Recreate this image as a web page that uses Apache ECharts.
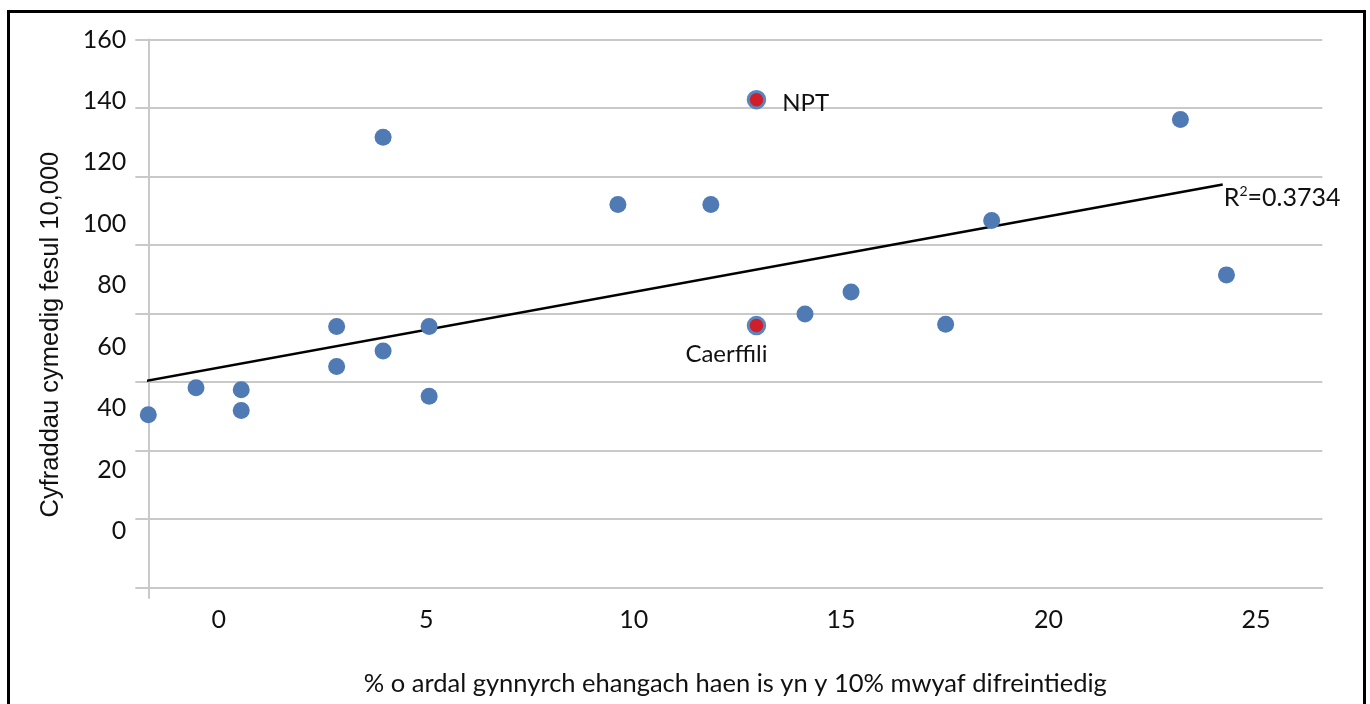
<!DOCTYPE html>
<html lang="cy">
<head>
    <meta charset="UTF-8">
    <script src="https://cdn.jsdelivr.net/npm/echarts@6/dist/echarts.min.js"></script>
    <title>Cyfraddau cymedig</title>
</head>
<body>
<style>
    html, body {
        margin: 0;
        background: #fff;
    }
    #main {
        width: 1370px;
        height: 704px;
    }
</style>
<div id='main'></div>
<script>
    // awdurdodau lleol (pwyntiau glas)
    var xVals = [-1.70, -0.55, 0.54, 0.54, 2.84, 2.84, 3.96, 3.96, 5.07, 5.07,
        9.62, 11.86, 14.13, 15.24, 17.52, 18.63, 23.18, 24.29];
    var yVals = [37.9, 46.7, 46.0, 39.3, 66.6, 53.6, 128.2, 58.6, 66.6, 43.9,
        106.3, 106.3, 70.7, 77.8, 67.3, 101.1, 134.0, 83.4];

    // pwyntiau wedi'u hamlygu
    var hiNames = ['NPT', 'Caerffili'];
    var hiX = [12.96, 12.96];
    var hiY = [140.4, 66.9];

    // llinell duedd
    var trendX = [-2.0, 24.2];
    var trendY = [48.3, 112.8];
    var r2Text = '0.3734';

    var xTicks = [0, 5, 10, 15, 20, 25];
    var yTicks = [0, 20, 40, 60, 80, 100, 120, 140, 160];

    var xMin = -1.70, xMax = 26.6;
    var yMin = -18.4, yMax = 160;

    var points = [];
    for (var i = 0; i < xVals.length; i++) {
        points.push([xVals[i], yVals[i]]);
    }
    var hiPoints = [];
    for (var j = 0; j < hiNames.length; j++) {
        var lab = j === 0
            ? {show: true, position: 'right', distance: 16, offset: [0, 4]}
            : {show: true, position: 'bottom', distance: 7, offset: [-30, 0]};
        hiPoints.push({name: hiNames[j], value: [hiX[j], hiY[j]], label: lab});
    }
    var trendData = [];
    for (var k = 0; k < trendX.length; k++) {
        trendData.push([trendX[k], trendY[k]]);
    }

    var gridColor = '#c9c9c9';
    var font = 'Lato';

    var myChart = echarts.init(document.getElementById('main'));
    var option = {
        animation: false,
        backgroundColor: '#fff',
        graphic: [{
            type: 'rect',
            shape: {x: 8.5, y: 11.5, width: 1356, height: 760},
            style: {fill: 'none', stroke: '#000', lineWidth: 3},
            silent: true
        }],
        grid: {left: 148.3, right: 47.7, top: 39.5, bottom: 116.3, containLabel: false},
        xAxis: {
            type: 'value',
            min: xMin,
            max: xMax,
            name: '% o ardal gynnyrch ehangach haen is yn y 10% mwyaf difreintiedig',
            nameLocation: 'middle',
            nameGap: 83,
            nameTextStyle: {color: '#111', fontSize: 25.5, fontFamily: font},
            axisLine: {show: true, onZero: false, lineStyle: {color: gridColor, width: 2}},
            axisTick: {show: true, customValues: [xMin], length: 11, lineStyle: {color: gridColor, width: 2}},
            splitLine: {show: false},
            axisLabel: {
                customValues: xTicks,
                margin: 20,
                color: '#111',
                fontSize: 25,
                fontFamily: font
            }
        },
        yAxis: [
            {
                // linellau grid
                type: 'value',
                min: 0,
                max: 160,
                interval: 20,
                position: 'left',
                axisLine: {show: true, onZero: false, lineStyle: {color: gridColor, width: 2}},
                axisTick: {show: true, length: 13, lineStyle: {color: gridColor, width: 2}},
                axisLabel: {show: false},
                splitLine: {show: true, lineStyle: {color: gridColor, width: 2}}
            },
            {
                // labeli a data
                type: 'value',
                min: yMin,
                max: yMax,
                position: 'left',
                name: 'Cyfraddau cymedig fesul 10,000',
                nameLocation: 'middle',
                nameGap: 84,
                nameTextStyle: {color: '#111', fontSize: 25.5, fontFamily: 'Liberation Sans', padding: [0, 42, 0, 0]},
                axisLine: {show: false, onZero: false},
                axisTick: {show: false},
                splitLine: {show: false},
                axisLabel: {
                    customValues: yTicks,
                    margin: 22,
                    color: '#111',
                    fontSize: 25,
                    fontFamily: font
                }
            }
        ],
        series: [
            {
                type: 'line',
                yAxisIndex: 1,
                data: trendData,
                symbol: 'none',
                clip: false,
                silent: true,
                z: 3,
                lineStyle: {color: '#000', width: 2.5},
                endLabel: {
                    show: true,
                    distance: 1,
                    offset: [0, 13],
                    formatter: 'R{s|2}=' + r2Text,
                    color: '#111',
                    fontSize: 25,
                    fontFamily: font,
                    rich: {s: {fontSize: 14, fontFamily: font, color: '#111', padding: [0, 0, 12, 0]}}
                }
            },
            {
                type: 'scatter',
                yAxisIndex: 1,
                data: points,
                symbolSize: 17,
                z: 5,
                itemStyle: {color: '#4f7ab3', opacity: 1}
            },
            {
                type: 'scatter',
                yAxisIndex: 1,
                data: hiPoints,
                symbolSize: 16.5,
                z: 6,
                itemStyle: {color: '#d01f2a', borderColor: '#5a86bf', borderWidth: 3, opacity: 1},
                label: {
                    formatter: '{b}',
                    color: '#111',
                    fontSize: 24,
                    fontFamily: font
                }
            }
        ]
    };

    myChart.setOption(option, true);
    window.onresize = myChart.resize;
</script>
</body>
</html>
